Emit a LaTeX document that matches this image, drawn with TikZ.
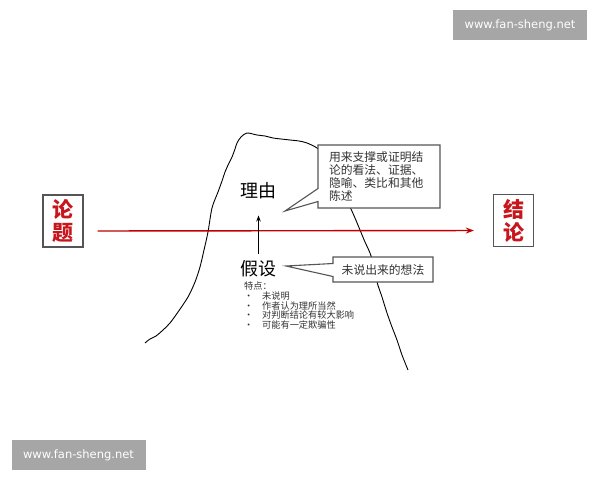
\documentclass[tikz,border=0pt]{standalone}
\usepackage{fontspec}
\setmainfont{DejaVu Sans}
\newfontfamily\cjk{Noto Sans CJK SC}
\usetikzlibrary{shapes.callouts,arrows.meta}
\definecolor{wmgray}{HTML}{A6A6A6}
\definecolor{boxred}{HTML}{C8161D}
\definecolor{linered}{HTML}{C00000}
\definecolor{boxline}{HTML}{555555}
\definecolor{txt}{HTML}{333333}
\begin{document}
\begin{tikzpicture}[x=1pt,y=-1pt,
  wm/.style={fill=wmgray,text=white,minimum width=134pt,minimum height=30pt,inner sep=0pt,font=\fontsize{11.5}{13}\selectfont},
  termbox/.style={draw=boxline,line width=1.3pt,fill=white,minimum width=40pt,minimum height=52pt,inner sep=0pt,align=center,text=boxred,font=\cjk\bfseries\fontsize{21}{23}\selectfont},
  callbox/.style={rectangle callout,draw=boxline,line width=1.1pt,fill=white,text=txt,inner sep=0pt,callout pointer width=13pt},
  bigword/.style={inner sep=0pt,font=\cjk\fontsize{18}{20}\selectfont,text=black},
  mountain/.style={line width=0.9pt,black},
  redarrow/.style={draw=linered,line width=1.4pt,-{Stealth[length=8pt,width=6pt]}},
  uparrow/.style={line width=0.8pt,black,-{Stealth[length=6pt,width=4.5pt]}}
]
\useasboundingbox (0,0) rectangle (600,480);
\fill[white] (0,0) rectangle (600,480);

% watermarks
\node[wm] (wm1) at (520,25) {www.fan-sheng.net};
\node[wm] (wm2) at (78.5,455) {www.fan-sheng.net};

% mountain outline
\draw[mountain] plot[smooth,tension=0.5] coordinates {
 (145,343) (150,339) (156,336) (163,330) (170,323) (178,312) (188,297) (195,282) (200,267)
 (204,250) (208,232) (212,208) (218,192) (222,181) (225,172) (229,163) (232,157) (235,149) (237,143)
 (241,137) (247,133) (257,135) (265,136) (273,138) (281,139) (290,140) (299,141) (307,143) (317,148)
 (325,156) (332,168) (338,182) (344,196) (350,207) (355,218) (360,230) (365,242) (370,253)
 (374,266) (377,282) (382,297) (387,313) (392,327) (397,340) (402,355) (408,370)};

% main red arrow
\node[termbox] (lunti) at (63,221) {论\\题};
\node[termbox] (jielun) at (513.5,220.5) {结\\论};
\draw[redarrow,shorten <=14pt,shorten >=19pt] ([yshift=-10pt]lunti.east) -- ([yshift=-10pt]jielun.west);

% reason / assumption
\node[bigword] (liyou) at (258.5,191) {理由};
\node[bigword] (jiashe) at (258.5,269) {假设};
\draw[uparrow,shorten <=7pt,shorten >=16pt] (jiashe.north) -- (liyou.south);

% callouts
\coordinate (tip1) at (285,211);
\coordinate (tip2) at (286,266);
\node[callbox,minimum width=122pt,minimum height=63pt,callout absolute pointer={(tip1)}] (note1) at (379,176.5)
  {\parbox{100pt}{\raggedright\cjk\fontsize{11.8}{13}\selectfont 用来支撑或证明结\\论的看法、证据、\\隐喻、类比和其他\\陈述}};
\node[callbox,minimum width=100pt,minimum height=25pt,callout absolute pointer={(tip2)}] (note2) at (383,269.5)
  {\cjk\fontsize{11.8}{13}\selectfont 未说出来的想法};

% features list
\node[anchor=north west,inner sep=0pt,align=left,text=txt,font=\cjk\fontsize{9.2}{9.6}\selectfont] (feat) at (244,282)
  {特点：\\
   \makebox[18pt][l]{·}未说明\\
   \makebox[18pt][l]{·}作者认为理所当然\\
   \makebox[18pt][l]{·}对判断结论有较大影响\\
   \makebox[18pt][l]{·}可能有一定欺骗性};
\end{tikzpicture}
\end{document}
